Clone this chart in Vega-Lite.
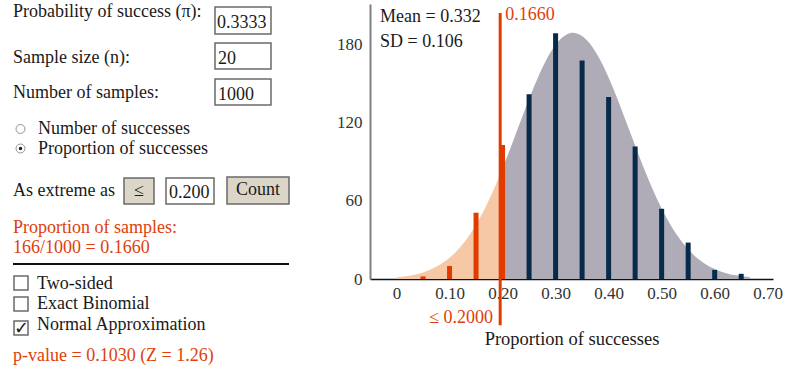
{
  "$schema": "https://vega.github.io/schema/vega-lite/v6.json",
  "background": "white",
  "padding": {"top": 3, "left": 0, "right": 0, "bottom": 0},
  "spacing": 36,
  "config": {"font": "Liberation Serif", "view": {"stroke": null}},
  "hconcat": [
    {
      "width": 300,
      "height": 373,
      "layer": [
        {
          "data": {"values": [
            {"x1": 215, "x2": 271, "y1": 6, "y2": 33, "kind": "input"},
            {"x1": 215, "x2": 271, "y1": 42, "y2": 68, "kind": "input"},
            {"x1": 215, "x2": 271, "y1": 78, "y2": 104, "kind": "input"},
            {"x1": 124, "x2": 154, "y1": 177, "y2": 203, "kind": "button"},
            {"x1": 166, "x2": 214, "y1": 177, "y2": 203, "kind": "input"},
            {"x1": 227, "x2": 289, "y1": 176, "y2": 203, "kind": "button"},
            {"x1": 14, "x2": 28, "y1": 275, "y2": 289, "kind": "input"},
            {"x1": 14, "x2": 28, "y1": 296, "y2": 310, "kind": "input"},
            {"x1": 14, "x2": 28, "y1": 320, "y2": 334, "kind": "input"}
          ]},
          "mark": {"type": "rect", "stroke": "#6a6a6a", "strokeWidth": 1.5},
          "encoding": {
            "x": {"field": "x1", "type": "quantitative", "scale": {"domain": [0, 300], "nice": false, "zero": false, "padding": 0}, "axis": null},
            "x2": {"field": "x2"},
            "y": {"field": "y1", "type": "quantitative", "scale": {"domain": [3, 376], "reverse": true, "nice": false, "zero": false, "padding": 0}, "axis": null},
            "y2": {"field": "y2"},
            "fill": {"field": "kind", "type": "nominal", "scale": {"domain": ["input", "button"], "range": ["#ffffff", "#dcd6c8"]}, "legend": null}
          }
        },
        {
          "data": {"values": [{"x1": 13, "x2": 289, "y": 263}]},
          "mark": {"type": "rule", "color": "#111111", "strokeWidth": 2},
          "encoding": {
            "x": {"field": "x1", "type": "quantitative", "scale": {"domain": [0, 300], "nice": false, "zero": false, "padding": 0}, "axis": null},
            "x2": {"field": "x2"},
            "y": {"field": "y", "type": "quantitative", "scale": {"domain": [3, 376], "reverse": true, "nice": false, "zero": false, "padding": 0}, "axis": null}
          }
        },
        {
          "data": {"values": [{"x": 20.5, "y": 128}, {"x": 20.5, "y": 147.5}]},
          "mark": {"type": "point", "shape": "circle", "filled": false, "stroke": "#666666", "strokeWidth": 1, "size": 80},
          "encoding": {
            "x": {"field": "x", "type": "quantitative", "scale": {"domain": [0, 300], "nice": false, "zero": false, "padding": 0}, "axis": null},
            "y": {"field": "y", "type": "quantitative", "scale": {"domain": [3, 376], "reverse": true, "nice": false, "zero": false, "padding": 0}, "axis": null}
          }
        },
        {
          "data": {"values": [{"x": 20.5, "y": 147.5}]},
          "mark": {"type": "point", "shape": "circle", "filled": true, "color": "#222222", "opacity": 1, "size": 12},
          "encoding": {
            "x": {"field": "x", "type": "quantitative", "scale": {"domain": [0, 300], "nice": false, "zero": false, "padding": 0}, "axis": null},
            "y": {"field": "y", "type": "quantitative", "scale": {"domain": [3, 376], "reverse": true, "nice": false, "zero": false, "padding": 0}, "axis": null}
          }
        },
        {
          "data": {"values": [
            {"x": 13, "y": 16, "label": "Probability of success (π):", "tone": "plain"},
            {"x": 13, "y": 62, "label": "Sample size (n):", "tone": "plain"},
            {"x": 13, "y": 97, "label": "Number of samples:", "tone": "plain"},
            {"x": 217, "y": 26.5, "label": "0.3333", "tone": "plain"},
            {"x": 218, "y": 63, "label": "20", "tone": "plain"},
            {"x": 218, "y": 99, "label": "1000", "tone": "plain"},
            {"x": 38, "y": 133, "label": "Number of successes", "tone": "plain"},
            {"x": 38, "y": 153, "label": "Proportion of successes", "tone": "plain"},
            {"x": 13, "y": 195, "label": "As extreme as", "tone": "plain"},
            {"x": 169, "y": 196.5, "label": "0.200", "tone": "plain"},
            {"x": 13, "y": 231.5, "label": "Proportion of samples:", "tone": "alert"},
            {"x": 13, "y": 251.5, "label": "166/1000 = 0.1660", "tone": "alert"},
            {"x": 37, "y": 288, "label": "Two-sided", "tone": "plain"},
            {"x": 37, "y": 308, "label": "Exact Binomial", "tone": "plain"},
            {"x": 37, "y": 329, "label": "Normal Approximation", "tone": "plain"},
            {"x": 13, "y": 360, "label": "p-value = 0.1030 (Z = 1.26)", "tone": "alert"}
          ]},
          "mark": {"type": "text", "align": "left", "baseline": "alphabetic", "fontSize": 18, "font": "Liberation Serif"},
          "encoding": {
            "x": {"field": "x", "type": "quantitative", "scale": {"domain": [0, 300], "nice": false, "zero": false, "padding": 0}, "axis": null},
            "y": {"field": "y", "type": "quantitative", "scale": {"domain": [3, 376], "reverse": true, "nice": false, "zero": false, "padding": 0}, "axis": null},
            "text": {"field": "label"},
            "color": {"field": "tone", "type": "nominal", "scale": {"domain": ["plain", "alert"], "range": ["#1a1a1a", "#e0400a"]}, "legend": null}
          }
        },
        {
          "data": {"values": [
            {"x": 139, "y": 190, "label": "≤"},
            {"x": 258, "y": 189, "label": "Count"},
            {"x": 21, "y": 328, "label": "✓"}
          ]},
          "mark": {"type": "text", "align": "center", "baseline": "middle", "fontSize": 18, "font": "Liberation Serif", "color": "#1a1a1a"},
          "encoding": {
            "x": {"field": "x", "type": "quantitative", "scale": {"domain": [0, 300], "nice": false, "zero": false, "padding": 0}, "axis": null},
            "y": {"field": "y", "type": "quantitative", "scale": {"domain": [3, 376], "reverse": true, "nice": false, "zero": false, "padding": 0}, "axis": null},
            "text": {"field": "label"}
          }
        }
      ]
    },
    {
      "width": 403,
      "height": 275,
      "resolve": {"scale": {"color": "independent", "fill": "independent"}},
      "layer": [
        {
          "data": {"values": [
            {"p": 0.0, "d": 1.3, "zone": "tail"},
            {"p": 0.02, "d": 2.3, "zone": "tail"},
            {"p": 0.04, "d": 3.9, "zone": "tail"},
            {"p": 0.06, "d": 6.6, "zone": "tail"},
            {"p": 0.08, "d": 10.5, "zone": "tail"},
            {"p": 0.10, "d": 16.3, "zone": "tail"},
            {"p": 0.12, "d": 24.4, "zone": "tail"},
            {"p": 0.14, "d": 35.2, "zone": "tail"},
            {"p": 0.16, "d": 49.0, "zone": "tail"},
            {"p": 0.18, "d": 65.7, "zone": "tail"},
            {"p": 0.20, "d": 85.1, "zone": "tail"},
            {"p": 0.20, "d": 85.1, "zone": "body"},
            {"p": 0.22, "d": 106.2, "zone": "body"},
            {"p": 0.24, "d": 127.9, "zone": "body"},
            {"p": 0.26, "d": 148.6, "zone": "body"},
            {"p": 0.28, "d": 166.6, "zone": "body"},
            {"p": 0.30, "d": 180.1, "zone": "body"},
            {"p": 0.32, "d": 187.8, "zone": "body"},
            {"p": 0.3333, "d": 189.3, "zone": "body"},
            {"p": 0.34, "d": 188.9, "zone": "body"},
            {"p": 0.36, "d": 183.3, "zone": "body"},
            {"p": 0.38, "d": 171.6, "zone": "body"},
            {"p": 0.40, "d": 155.0, "zone": "body"},
            {"p": 0.42, "d": 135.0, "zone": "body"},
            {"p": 0.44, "d": 113.4, "zone": "body"},
            {"p": 0.46, "d": 91.9, "zone": "body"},
            {"p": 0.48, "d": 71.9, "zone": "body"},
            {"p": 0.50, "d": 54.2, "zone": "body"},
            {"p": 0.52, "d": 39.4, "zone": "body"},
            {"p": 0.54, "d": 27.7, "zone": "body"},
            {"p": 0.56, "d": 18.7, "zone": "body"},
            {"p": 0.58, "d": 12.2, "zone": "body"},
            {"p": 0.60, "d": 7.7, "zone": "body"},
            {"p": 0.62, "d": 4.7, "zone": "body"},
            {"p": 0.64, "d": 2.8, "zone": "body"},
            {"p": 0.6667, "d": 1.3, "zone": "body"}
          ]},
          "mark": {"type": "area", "interpolate": "monotone"},
          "encoding": {
            "x": {"field": "p", "type": "quantitative", "scale": {"domain": [-0.05, 0.71], "nice": false, "zero": false, "padding": 0},
              "axis": {"values": [0, 0.1, 0.2, 0.3, 0.4, 0.5, 0.6, 0.7], "labelExpr": "datum.value == 0 ? '0' : format(datum.value, '.2f')",
                "title": "Proportion of successes", "titleFont": "Liberation Serif", "titleFontSize": 18.5, "titleFontWeight": "normal", "titleColor": "#1a1a1a", "titlePadding": 28,
                "labelFont": "Liberation Serif", "labelFontSize": 17, "labelColor": "#333333", "labelPadding": 6, "ticks": false, "tickSize": 0, "grid": false,
                "domainColor": "#111111", "domainWidth": 1.5, "labelFlush": false}},
            "y": {"field": "d", "type": "quantitative", "stack": null, "scale": {"domain": [0, 211.5], "nice": false, "zero": true, "padding": 0},
              "axis": {"values": [0, 60, 120, 180], "title": null, "labelFont": "Liberation Serif", "labelFontSize": 17, "labelColor": "#333333", "labelPadding": 8,
                "ticks": false, "tickSize": 0, "grid": false, "domainColor": "#808080", "domainWidth": 2}},
            "fill": {"field": "zone", "type": "nominal", "scale": {"domain": ["tail", "body"], "range": ["#f7c8a6", "#afacb7"]}, "legend": null}
          }
        },
        {
          "data": {"values": [
            {"p": 0.05, "count": 2, "side": "tail"},
            {"p": 0.10, "count": 10, "side": "tail"},
            {"p": 0.15, "count": 51, "side": "tail"},
            {"p": 0.20, "count": 103, "side": "tail"},
            {"p": 0.25, "count": 142, "side": "main"},
            {"p": 0.30, "count": 189, "side": "main"},
            {"p": 0.35, "count": 168, "side": "main"},
            {"p": 0.40, "count": 140, "side": "main"},
            {"p": 0.45, "count": 102, "side": "main"},
            {"p": 0.50, "count": 54, "side": "main"},
            {"p": 0.55, "count": 28, "side": "main"},
            {"p": 0.60, "count": 7, "side": "main"},
            {"p": 0.65, "count": 4, "side": "main"}
          ]},
          "mark": {"type": "bar", "size": 5, "opacity": 1},
          "encoding": {
            "x": {"field": "p", "type": "quantitative"},
            "y": {"field": "count", "type": "quantitative", "stack": null},
            "color": {"field": "side", "type": "nominal", "scale": {"domain": ["tail", "main"], "range": ["#e03c00", "#072a4a"]}, "legend": null}
          }
        },
        {
          "data": {"values": [{"cut": 0.1955, "lo": -35.5, "hi": 204.5}]},
          "mark": {"type": "rule", "color": "#e03c00", "strokeWidth": 3},
          "encoding": {
            "x": {"field": "cut", "type": "quantitative"},
            "y": {"field": "lo", "type": "quantitative"},
            "y2": {"field": "hi"}
          }
        },
        {
          "data": {"values": [
            {"x": -0.031, "y": 197.5, "label": "Mean = 0.332"},
            {"x": -0.031, "y": 178.5, "label": "SD = 0.106"}
          ]},
          "mark": {"type": "text", "align": "left", "baseline": "alphabetic", "fontSize": 18, "font": "Liberation Serif", "color": "#1a1a1a"},
          "encoding": {
            "x": {"field": "x", "type": "quantitative"},
            "y": {"field": "y", "type": "quantitative"},
            "text": {"field": "label"}
          }
        },
        {
          "data": {"values": [{"x": 0.205, "y": 199, "label": "0.1660"}]},
          "mark": {"type": "text", "align": "left", "baseline": "alphabetic", "fontSize": 18, "font": "Liberation Serif", "color": "#e0400a"},
          "encoding": {
            "x": {"field": "x", "type": "quantitative"},
            "y": {"field": "y", "type": "quantitative"},
            "text": {"field": "label"}
          }
        },
        {
          "data": {"values": [{"x": 0.182, "y": -33.5, "label": "≤ 0.2000"}]},
          "mark": {"type": "text", "align": "right", "baseline": "alphabetic", "fontSize": 18, "font": "Liberation Serif", "color": "#e0400a"},
          "encoding": {
            "x": {"field": "x", "type": "quantitative"},
            "y": {"field": "y", "type": "quantitative"},
            "text": {"field": "label"}
          }
        }
      ]
    }
  ]
}
